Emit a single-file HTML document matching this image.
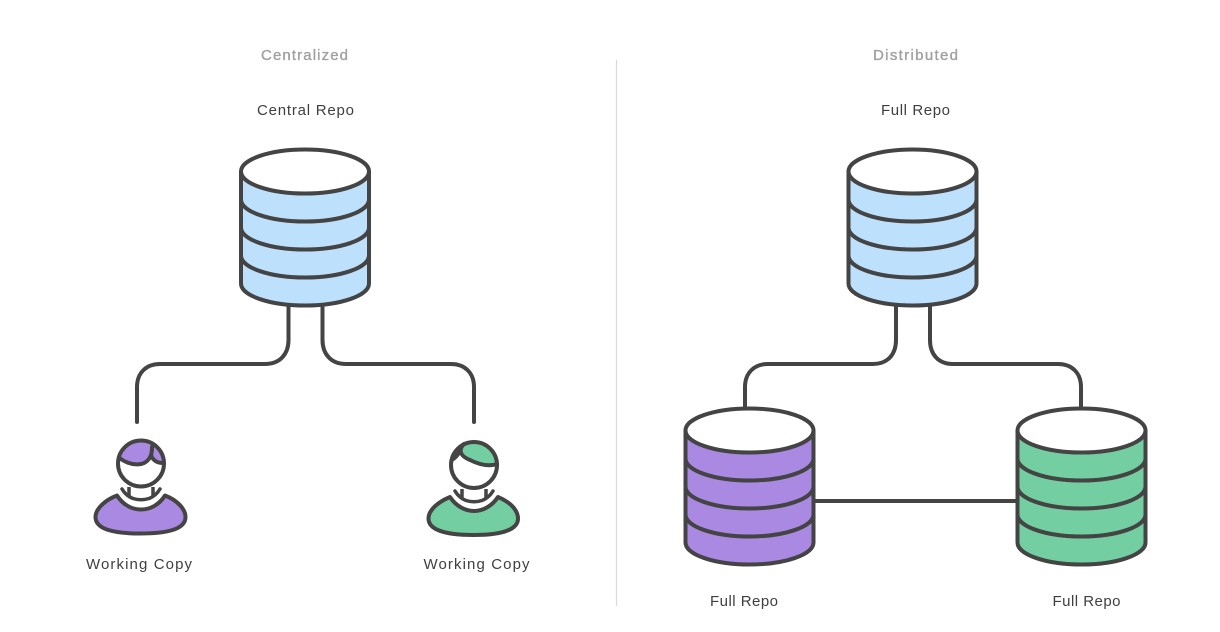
<!DOCTYPE html>
<html>
<head>
<meta charset="utf-8">
<style>
html,body{margin:0;padding:0;background:#fff;width:1220px;height:632px;overflow:hidden}
svg{display:block}
text{font-family:"Liberation Sans",sans-serif;font-size:15px;text-anchor:middle;fill:#3f3f3f}
.h{fill:#a0a0a0;stroke:#a0a0a0;stroke-width:.35px}
.l{fill:none;stroke:#444;stroke-width:4;stroke-linecap:round;stroke-linejoin:round}
</style>
</head>
<body>
<svg width="1220" height="632" viewBox="0 0 1220 632" xmlns="http://www.w3.org/2000/svg">
<defs>
<g id="cyl">
<path d="M-64 0V112A64 22 0 0 0 64 112V0Z" fill="currentColor"/>
<path class="l" d="M-64 0V112A64 22 0 0 0 64 112V0"/>
<path class="l" d="M-64 28A64 22 0 0 0 64 28"/>
<path class="l" d="M-64 56A64 22 0 0 0 64 56"/>
<path class="l" d="M-64 84A64 22 0 0 0 64 84"/>
<ellipse class="l" style="fill:#fff" cx="0" cy="0" rx="64" ry="22"/>
</g>
</defs>
<line x1="616.500" y1="60" x2="616.500" y2="606" stroke="#d9d9d9" stroke-width="1.200"/>
<text class="h" x="304.500" y="60" textLength="87">Centralized</text>
<text class="h" x="915.500" y="60" textLength="85">Distributed</text>
<text x="305.500" y="115" textLength="97">Central Repo</text>
<text x="915.500" y="115" textLength="69">Full Repo</text>
<text x="139" y="569" textLength="106">Working Copy</text>
<text x="476.500" y="569" textLength="106">Working Copy</text>
<text x="744" y="606" textLength="68">Full Repo</text>
<text x="1086.500" y="606" textLength="68">Full Repo</text>

<path class="l" d="M288.500 306V340C288.500 354 280 364 265 364H160C146 364 137 373 137 387V422"/>
<path class="l" d="M322.500 306V340C322.500 354 331 364 346 364H451C465 364 474 373 474 387V422"/>
<path class="l" style="stroke-linecap:butt" d="M896 306V340C896 354 888 364 873 364H768C754 364 745 373 745 387V408"/>
<path class="l" style="stroke-linecap:butt" d="M930 306V340C930 354 938 364 953 364H1058C1072 364 1081 373 1081 387V408"/>
<line x1="813" y1="501" x2="1018" y2="501" stroke="#444" stroke-width="4"/>

<use href="#cyl" x="305" y="171.500" style="color:#bde0fd"/>
<use href="#cyl" x="912.500" y="171.500" style="color:#bde0fd"/>
<use href="#cyl" x="749.500" y="430.500" style="color:#aa89e2"/>
<use href="#cyl" x="1081.500" y="430.500" style="color:#73cfa2"/>

<!-- Purple person -->
<g>
<circle cx="141" cy="463.500" r="23" fill="#fff"/>
<path d="M119.500 458C128 465 146 469 151 455C153 461 158 463 163.500 463C163 450 153 440.500 141 440.500C130 440.500 121 448 119.500 458Z" fill="#aa89e2"/>
<circle class="l" cx="141" cy="463.500" r="23"/>
<path class="l" d="M119.500 458C128 465 146 469 151 455C152 452 152 450 152 447"/>
<path class="l" d="M151 455C153 461 158 463 163 463"/>
<path class="l" style="stroke-width:3.500" d="M122 489C125 494 129 497 133 498.500C138 500 144 500 149 498.500C153 497 157 494 160 489"/>
<path class="l" style="stroke-width:3.500;stroke-linecap:butt" d="M129 487V497M153 487V497"/>
<path d="M117 495.500C123 505 132 509.500 141 509.500S159 505 165 495.500C177 500 185.500 509 185.500 517C185.500 530 165 533.500 140.500 533.500S95.500 530 95.500 517C95.500 509 105 500 117 495.500Z" fill="#aa89e2" stroke="#444" stroke-width="4" stroke-linejoin="round"/>
</g>

<!-- Green person -->
<g>
<circle cx="474" cy="465" r="23" fill="#fff"/>
<path d="M464 444C458 450 460 456 470 460C478 464 488 467 497 464C496 452 486 442 474 442C470 442 467 443 464 444ZM460 449C458 455 455 458 452 460C453 456 456 452 460 449Z" fill="#73cfa2"/>
<circle class="l" cx="474" cy="465" r="23"/>
<path class="l" d="M464 444C458 450 460 456 470 460C478 464 488 467 497 464"/>
<path class="l" d="M460 451C458 455 455 458 452 460"/>
<path class="l" style="stroke-width:3.500" d="M455 491C458 496 462 499 466 500.500C471 502 477 502 482 500.500C486 499 490 496 493 491"/>
<path class="l" style="stroke-width:3.500;stroke-linecap:butt" d="M462 489V499M486 489V499"/>
<path d="M450 497C456 506 465 511 474 511S492 506 498 497C510 502 518 510 518 518.500C518 531 498 535 473.500 535S428.500 531 428.500 518.500C428.500 510 438 502 450 497Z" fill="#73cfa2" stroke="#444" stroke-width="4" stroke-linejoin="round"/>
</g>
</svg>
</body>
</html>
